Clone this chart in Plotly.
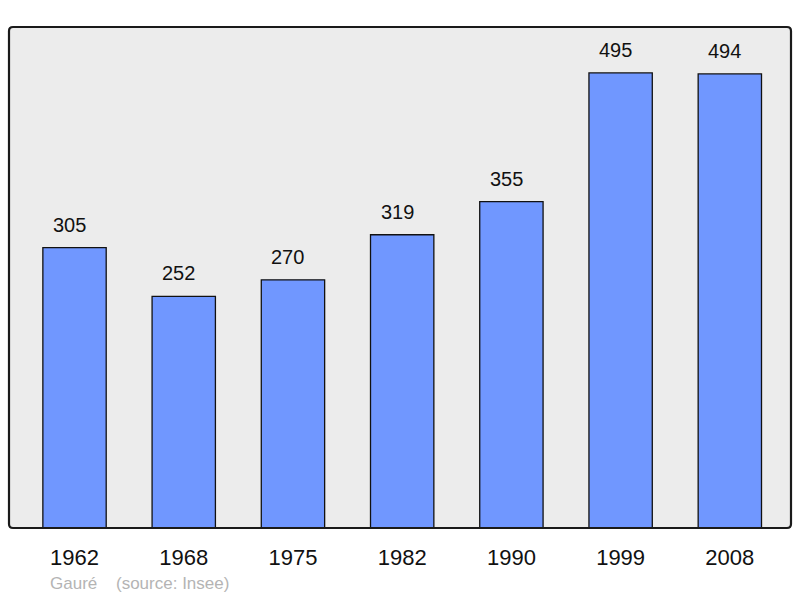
import plotly.graph_objects as go

years = ["1962", "1968", "1975", "1982", "1990", "1999", "2008"]
population = [305, 252, 270, 319, 355, 495, 494]
commune = "Gauré"
source = "(source: Insee)"

W, H = 800, 598
L, R, T, B = 9, 9, 27, 70
pw, ph = W - L - R, H - T - B

fig = go.Figure()
fig.add_trace(go.Bar(
    x=years, y=population, width=0.58,
    marker=dict(color="#7097ff", line=dict(color="#111111", width=1.3)),
    hoverinfo="x+y",
))

for i, v in enumerate(population):
    fig.add_annotation(x=i, y=v, text=str(v), showarrow=False,
                       yanchor="middle", yshift=23, xshift=-5,
                       font=dict(family="Liberation Sans, Arial", size=20, color="#111111"))

def px_x(p):
    return (p - L) / pw

def px_y(p):
    return (H - B - p) / ph

fig.add_annotation(x=px_x(48), y=px_y(583), xref="paper", yref="paper", text=commune,
                   showarrow=False, xanchor="left", yanchor="middle",
                   font=dict(family="Liberation Sans, Arial", size=17, color="#b4b4b4"))
fig.add_annotation(x=px_x(114), y=px_y(583), xref="paper", yref="paper", text=source,
                   showarrow=False, xanchor="left", yanchor="middle",
                   font=dict(family="Liberation Sans, Arial", size=17, color="#b4b4b4"))

# rounded frame
rx, ry = 4 / pw, 4 / ph
path = (f"M {rx},0 L {1-rx},0 Q 1,0 1,{ry} L 1,{1-ry} Q 1,1 {1-rx},1 "
        f"L {rx},1 Q 0,1 0,{1-ry} L 0,{ry} Q 0,0 {rx},0 Z")
fig.add_shape(type="path", path=path, xref="paper", yref="paper",
              line=dict(color="#1a1a1a", width=2.2), layer="above")

fig.update_layout(
    width=W, height=H,
    margin=dict(l=L, r=R, t=T, b=B),
    paper_bgcolor="white", plot_bgcolor="#ececec",
    showlegend=False,
    font=dict(family="Liberation Sans, Arial", color="#111111"),
    xaxis=dict(type="category", range=[-0.6, 6.56], showgrid=False, zeroline=False,
               showline=False, ticks="", ticklabelstandoff=14,
               tickfont=dict(family="Liberation Sans, Arial", size=22, color="#111111")),
    yaxis=dict(range=[0, 545], showgrid=False, zeroline=False, showline=False,
               showticklabels=False, ticks=""),
)

fig.write_html("out.html", config={"displayModeBar": False},
               post_script="document.body.style.margin='0';")
